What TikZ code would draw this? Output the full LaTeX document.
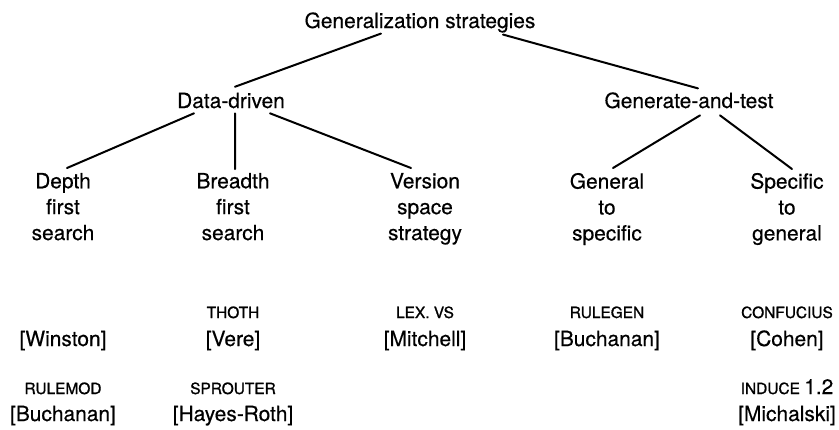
\documentclass[tikz,border=0pt]{standalone}
\usepackage{fontspec}
\setmainfont{TeX Gyre Heros}[UprightFeatures={FakeBold=0.4}]
\newfontfamily\progfont{TeX Gyre Heros}[UprightFeatures={FakeBold=1.2}]
\begin{document}
\begin{tikzpicture}[x=1bp,y=-1bp,
  lbl/.style={inner sep=0pt,outer sep=0pt,anchor=base,font=\fontsize{21}{26}\selectfont},
  leaf/.style={inner sep=0pt,outer sep=0pt,anchor=north,align=center,font=\fontsize{21}{26}\selectfont},
  prog/.style={inner sep=0pt,outer sep=0pt,anchor=base,font=\progfont\fontsize{15.5}{18}\selectfont},
  edge/.style={line width=2bp,line cap=round}]
\useasboundingbox (0,0) rectangle (839,429);
% tree nodes
\node[lbl] (root) at (420,28) {Generalization strategies};
\node[lbl] (dd) at (231,108) {Data-driven};
\node[lbl] (gt) at (689,108) {Generate-and-test};
\node[leaf] (l1) at (63,173) {Depth\\first\\search};
\node[leaf] (l2) at (233,173) {Breadth\\first\\search};
\node[leaf] (l3) at (425,173) {Version\\space\\strategy};
\node[leaf] (l4) at (607,173) {General\\to\\specific};
\node[leaf] (l5) at (787,173) {Specific\\to\\general};
% connectors
\draw[edge] ([xshift=-39bp,yshift=-1bp]root.south) -- ([xshift=4bp,yshift=6bp]dd.north);
\draw[edge] ([xshift=83bp,yshift=-2bp]root.south) -- ([xshift=9bp,yshift=4bp]gt.north);
\draw[edge] ([xshift=-37bp,yshift=-5bp]dd.south) -- ([xshift=4bp,yshift=5bp]l1.north);
\draw[edge] ([xshift=4bp,yshift=-5bp]dd.south) -- ([xshift=2bp,yshift=4bp]l2.north);
\draw[edge] ([xshift=39bp,yshift=-5bp]dd.south) -- ([xshift=-14bp,yshift=5bp]l3.north);
\draw[edge] ([xshift=11bp,yshift=-7bp]gt.south) -- ([xshift=6bp,yshift=5bp]l4.north);
\draw[edge] ([xshift=31bp,yshift=-7bp]gt.south) -- ([xshift=5bp,yshift=4bp]l5.north);
% programs and authors
\node[prog] (p2) at (233,318) {THOTH};
\node[prog] (p3) at (425,318) {LEX. VS};
\node[prog] (p4) at (607,318) {RULEGEN};
\node[prog] (p5) at (787,318) {CONFUCIUS};
\node[lbl] (a1) at (63,346) {[Winston]};
\node[lbl] (a2) at (233,346) {[Vere]};
\node[lbl] (a3) at (425,346) {[Mitchell]};
\node[lbl] (a4) at (607,346) {[Buchanan]};
\node[lbl] (a5) at (787,346) {[Cohen]};
\node[prog] (q1) at (63,394) {RULEMOD};
\node[prog] (q2) at (233,394) {SPROUTER};
\node[prog] (q5) at (787,394) {INDUCE {\rmfamily\fontsize{21}{26}\selectfont 1.2}};
\node[lbl] (b1) at (63,421) {[Buchanan]};
\node[lbl] (b2) at (233,421) {[Hayes-Roth]};
\node[lbl] (b5) at (787,421) {[Michalski]};
\end{tikzpicture}
\end{document}
